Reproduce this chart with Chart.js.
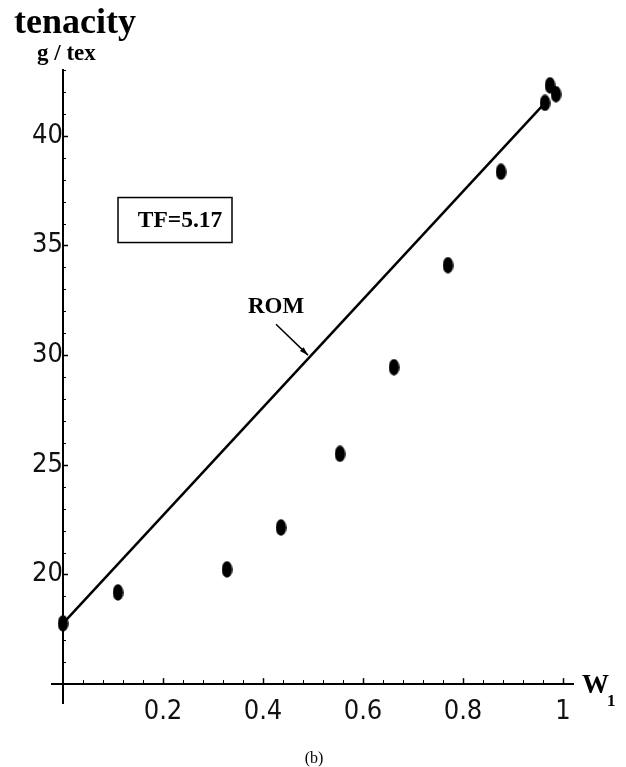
<!DOCTYPE html>
<html>
<head>
<meta charset="utf-8">
<script src="https://cdn.jsdelivr.net/npm/chart.js@4.4.1/dist/chart.umd.min.js"></script>
<style>
  html, body { margin: 0; padding: 0; background: #fff; }
  #caixa { width: 626px; height: 767px; }
</style>
</head>
<body>
<div id="caixa"><canvas id="grafico"></canvas></div>
<script>
// pontos medidos (W1, tenacidade g/tex)
const pontosX = [0, 0.11, 0.328, 0.436, 0.554, 0.662, 0.77, 0.876, 0.964, 0.974, 0.986];
const pontosY = [17.77, 19.18, 20.23, 22.14, 25.5, 29.45, 34.1, 38.36, 41.5, 42.3, 41.9];

// reta ROM
const romX = [0, 0.964];
const romY = [17.77, 41.5];

// rotulos dos eixos
const rotulosX = [0.2, 0.4, 0.6, 0.8, 1];
const rotulosY = [20, 25, 30, 35, 40];

const fonteTicks = "'DejaVu Sans Condensed', 'Liberation Sans Narrow', sans-serif";
const fonteTexto = "'Liberation Serif', 'DejaVu Serif', serif";

// marcador eliptico
function criarElipse() {
    const c = document.createElement('canvas');
    c.width = 11;
    c.height = 17;
    const g = c.getContext('2d');
    g.fillStyle = '#000';
    g.beginPath();
    g.ellipse(5.5, 8.5, 5.3, 8.3, 0, 0, Math.PI * 2);
    g.fill();
    return c;
}

const marcasX = [];
for (let i = 1; i <= 25; i++) marcasX.push(+(i * 0.04).toFixed(2));
const marcasY = [];
for (let v = 16; v <= 43; v++) marcasY.push(v);

function ehMaior(lista, v) {
    return lista.some(r => Math.abs(r - v) < 1e-6);
}

const desenhos = {
    id: 'desenhos',
    afterDraw(chart) {
        const ctx = chart.ctx;
        const sx = chart.scales.x;
        const sy = chart.scales.y;
        const x0 = sx.getPixelForValue(0);
        const y0 = sy.getPixelForValue(15);

        ctx.save();
        ctx.strokeStyle = '#000';

        // tracinhos do eixo x (para cima)
        marcasX.forEach(v => {
            const px = Math.round(sx.getPixelForValue(v)) + 0.5;
            const maior = ehMaior(rotulosX, v);
            ctx.lineWidth = maior ? 1.5 : 1;
            ctx.beginPath();
            ctx.moveTo(px, y0);
            ctx.lineTo(px, y0 - (maior ? 6 : 4));
            ctx.stroke();
        });

        // tracinhos do eixo y (para a direita)
        marcasY.forEach(v => {
            const py = Math.round(sy.getPixelForValue(v)) + 0.5;
            const maior = ehMaior(rotulosY, v);
            ctx.lineWidth = maior ? 1.5 : 1;
            ctx.beginPath();
            ctx.moveTo(x0, py);
            ctx.lineTo(x0 + (maior ? 5 : 3), py);
            ctx.stroke();
        });

        ctx.fillStyle = '#000';

        // caixa TF
        const cx = sx.getPixelForValue(0.224);
        const cy = sy.getPixelForValue(36.16);
        ctx.lineWidth = 1.5;
        ctx.strokeRect(cx - 57, cy - 22.5, 114, 45);
        ctx.font = 'bold 23.5px ' + fonteTexto;
        ctx.textAlign = 'center';
        ctx.textBaseline = 'middle';
        ctx.fillText('TF=5.17', cx + 5, cy + 1);

        // ROM com seta
        ctx.font = 'bold 23px ' + fonteTexto;
        ctx.fillText('ROM', sx.getPixelForValue(0.426), sy.getPixelForValue(32.18));
        const ax = sx.getPixelForValue(0.426), ay = sy.getPixelForValue(31.41);
        const bx = sx.getPixelForValue(0.49), by = sy.getPixelForValue(30.0);
        ctx.lineWidth = 1.5;
        ctx.beginPath();
        ctx.moveTo(ax, ay);
        ctx.lineTo(bx, by);
        ctx.stroke();
        const ang = Math.atan2(by - ay, bx - ax);
        ctx.beginPath();
        ctx.moveTo(bx, by);
        ctx.lineTo(bx - 9 * Math.cos(ang - 0.3), by - 9 * Math.sin(ang - 0.3));
        ctx.lineTo(bx - 9 * Math.cos(ang + 0.3), by - 9 * Math.sin(ang + 0.3));
        ctx.closePath();
        ctx.fill();

        // titulos
        ctx.textAlign = 'left';
        ctx.textBaseline = 'alphabetic';
        ctx.font = 'bold 36px ' + fonteTexto;
        ctx.fillText('tenacity', 14, 33);
        ctx.font = 'bold 23px ' + fonteTexto;
        ctx.fillText('g / tex', 37, 60);

        ctx.font = 'bold 27px ' + fonteTexto;
        ctx.fillText('W', 582, 693);
        ctx.font = 'bold 17px ' + fonteTexto;
        ctx.fillText('1', 607, 706);

        ctx.font = '16px ' + fonteTexto;
        ctx.textAlign = 'center';
        ctx.fillText('(b)', 314, 763);
        ctx.restore();
    }
};

new Chart(document.getElementById('grafico'), {
    type: 'scatter',
    data: {
        datasets: [{
            label: 'ROM',
            type: 'line',
            data: romX.map((x, i) => ({x: x, y: romY[i]})),
            borderColor: '#000',
            borderWidth: 2.5,
            pointRadius: 0,
            fill: false,
            order: 2
        }, {
            label: 'dados',
            data: pontosX.map((x, i) => ({x: x, y: pontosY[i]})),
            pointStyle: criarElipse(),
            pointRadius: 6,
            backgroundColor: '#000',
            borderColor: '#000',
            order: 1
        }]
    },
    options: {
        responsive: true,
        maintainAspectRatio: false,
        animation: false,
        layout: {
            padding: {left: 52, right: 53, top: 70, bottom: 64}
        },
        plugins: {
            legend: {display: false},
            tooltip: {enabled: false}
        },
        scales: {
            x: {
                type: 'linear',
                min: -0.022,
                max: 1.02,
                position: {y: 15},
                afterBuildTicks: eixo => {
                    eixo.ticks = rotulosX.map(v => ({value: v}));
                },
                grid: {display: false},
                border: {display: true, color: '#000', width: 2},
                ticks: {
                    color: '#111',
                    padding: 4,
                    maxRotation: 0,
                    autoSkip: false,
                    font: {family: fonteTicks, size: 27},
                    callback: v => (v === 1 ? '1' : v.toFixed(1))
                }
            },
            y: {
                type: 'linear',
                min: 14.14,
                max: 43,
                position: {x: 0},
                afterBuildTicks: eixo => {
                    eixo.ticks = rotulosY.map(v => ({value: v}));
                },
                grid: {display: false},
                border: {display: true, color: '#000', width: 2},
                ticks: {
                    color: '#111',
                    padding: 7,
                    autoSkip: false,
                    font: {family: fonteTicks, size: 27},
                    callback: v => String(v)
                }
            }
        }
    },
    plugins: [desenhos]
});
</script>
</body>
</html>
